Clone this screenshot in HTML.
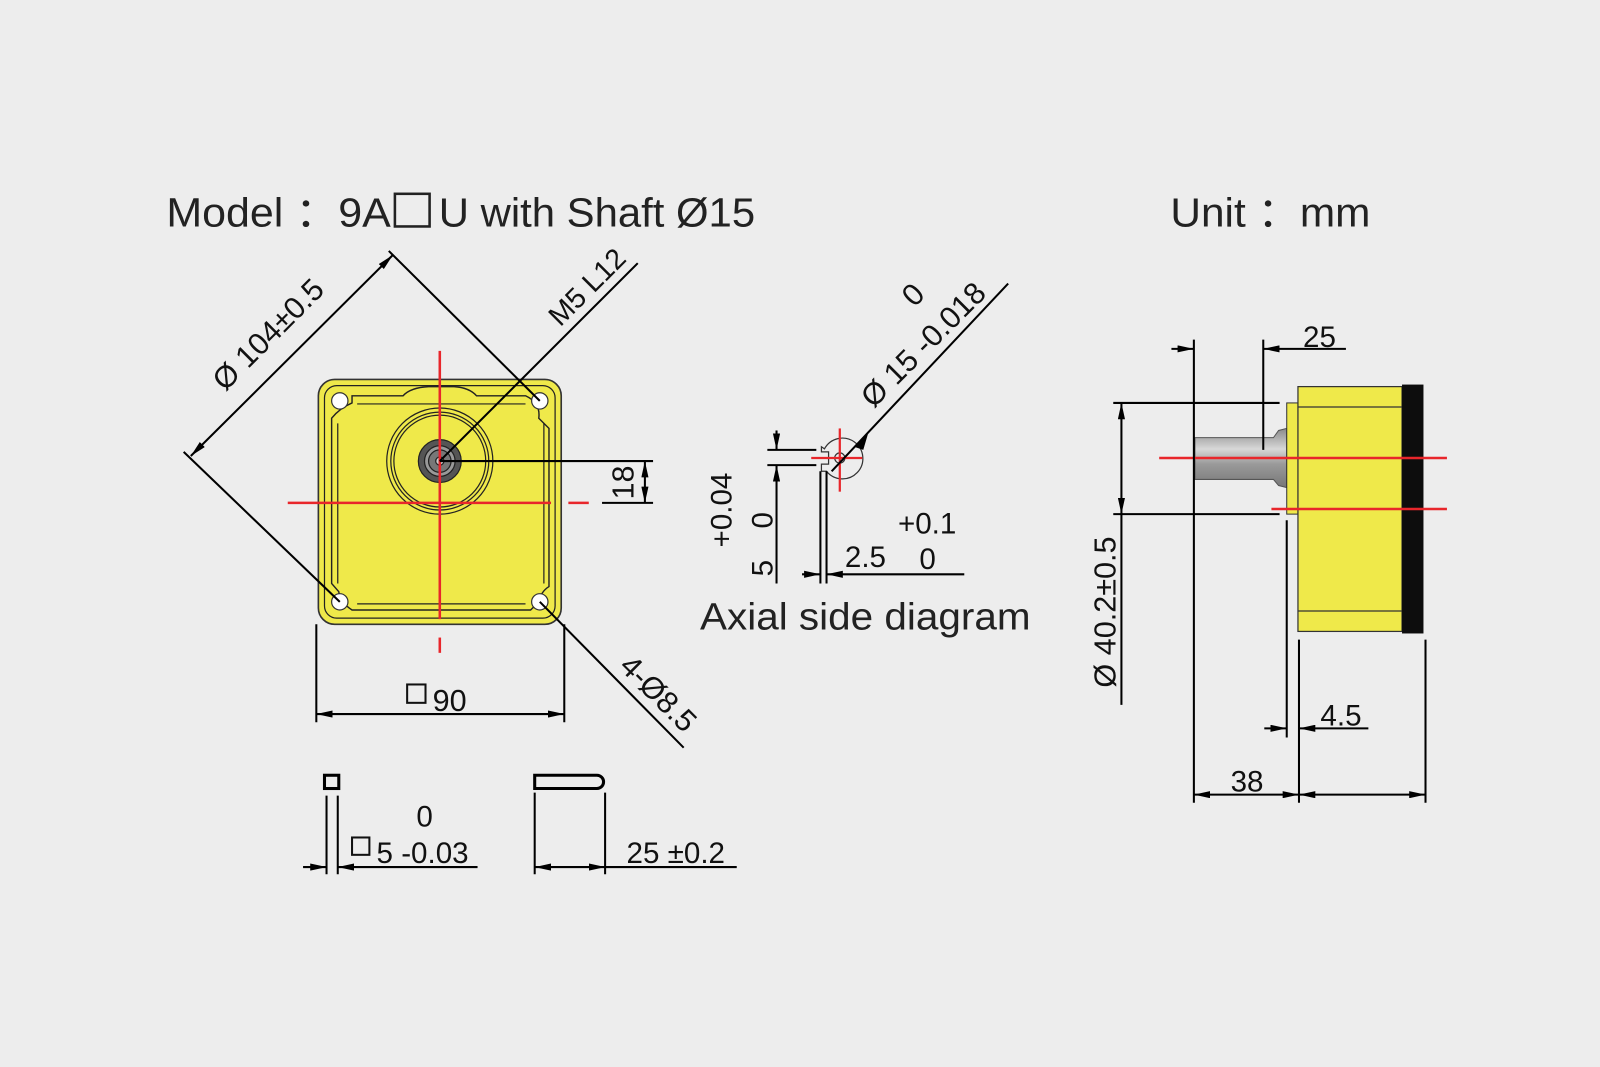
<!DOCTYPE html>
<html><head><meta charset="utf-8"><style>
html,body{margin:0;padding:0;background:#ededed;}
svg{display:block}
text{font-family:"Liberation Sans",sans-serif;fill:#111}
</style></head><body>
<svg width="1600" height="1067" viewBox="0 0 1568 1046" preserveAspectRatio="none" xmlns="http://www.w3.org/2000/svg">
<defs>
<marker id="a" viewBox="0 0 16 7" refX="16" refY="3.5" markerWidth="16" markerHeight="7" markerUnits="userSpaceOnUse" orient="auto-start-reverse"><path d="M0,0 L16,3.5 L0,7 z" fill="#000"/></marker>
<linearGradient id="sh" x1="0" y1="0" x2="0" y2="1"><stop offset="0" stop-color="#8a8a8a"/><stop offset="0.35" stop-color="#d8d8d8"/><stop offset="0.6" stop-color="#9a9a9a"/><stop offset="1" stop-color="#777"/></linearGradient>
</defs>
<rect width="1568" height="1046" fill="#ededed"/>
<!-- titles -->
<text x="163" y="222" font-size="40" textLength="220" lengthAdjust="spacingAndGlyphs" style="fill:#222">Model ：9A</text>
<rect x="387" y="190" width="34" height="32" fill="none" stroke="#222" stroke-width="2.5"/>
<text x="430" y="222" font-size="40" textLength="310" lengthAdjust="spacingAndGlyphs" style="fill:#222">U with Shaft Ø15</text>
<text x="1147" y="222" font-size="40" textLength="196" lengthAdjust="spacingAndGlyphs" style="fill:#222">Unit ：mm</text>

<!-- FRONT VIEW -->
<g stroke="#222" fill="none" stroke-width="1.2">
<rect x="312" y="372" width="238" height="240" rx="16" fill="#efe94a" stroke="#333" stroke-width="1.6"/>
<rect x="318" y="378" width="226" height="228" rx="12"/>
<path d="M345,388 L395,388 Q402,380 420,379 L445,379 Q460,380 467,388 L515,388 Q530,395 528,410 L538,420 L538,575 Q530,580 528,590 L520,598 L345,598 Q333,590 332,580 L325,572 L325,410 Q333,400 345,395 Z" stroke-width="1.4"/>
<path d="M350,396 L515,396 M331,415 L331,572 M533,415 L533,572 M350,592 L515,592"/>
<circle cx="431" cy="452" r="52"/><circle cx="431" cy="452" r="48"/><circle cx="431" cy="452" r="45"/>
<circle cx="431" cy="452" r="21" fill="#555"/><circle cx="431" cy="452" r="15" fill="#999"/><circle cx="431" cy="452" r="11" fill="#777"/><circle cx="431" cy="452" r="4" fill="#ccc"/>
</g>
<g fill="#fff" stroke="#333" stroke-width="1.2">
<circle cx="333" cy="393" r="8"/><circle cx="529" cy="393" r="8"/><circle cx="333" cy="590" r="8"/><circle cx="529" cy="590" r="8"/>
</g>
<g stroke="#e8262b" stroke-width="2.5">
<line x1="431" y1="344" x2="431" y2="607"/><line x1="431" y1="625" x2="431" y2="640"/>
<line x1="282" y1="493" x2="540" y2="493"/><line x1="557" y1="493" x2="577" y2="493"/>
</g>
<g stroke="#000" stroke-width="2" fill="none">
<line x1="180" y1="443" x2="333" y2="590"/>
<line x1="381" y1="246" x2="529" y2="393"/>
<line x1="187" y1="447" x2="385" y2="250" marker-start="url(#a)" marker-end="url(#a)"/>
<line x1="431" y1="452" x2="625" y2="258"/>
<line x1="431" y1="452" x2="640" y2="452"/>
<line x1="590" y1="493" x2="640" y2="493"/>
<line x1="632" y1="452" x2="632" y2="493" marker-start="url(#a)" marker-end="url(#a)"/>
<line x1="529" y1="590" x2="670" y2="733"/>
<line x1="310" y1="612" x2="310" y2="708"/><line x1="553" y1="612" x2="553" y2="708"/>
<line x1="310" y1="700" x2="553" y2="700" marker-start="url(#a)" marker-end="url(#a)"/>
</g>
<text transform="translate(270,335) rotate(-45)" font-size="30" text-anchor="middle">Ø 104±0.5</text>
<text transform="translate(582,288) rotate(-45)" font-size="28" text-anchor="middle">M5 L12</text>
<text transform="translate(621,473) rotate(-90)" font-size="30" text-anchor="middle">18</text>
<text transform="translate(638,687) rotate(45)" font-size="30" text-anchor="middle">4-Ø8.5</text>
<rect x="399" y="671" width="18" height="18" fill="none" stroke="#111" stroke-width="2"/>
<text x="424" y="697" font-size="30">90</text>

<!-- AXIAL SIDE -->
<g stroke="#333" stroke-width="1.2" fill="none">
<path d="M808,440 A20,20 0 1 1 810,462 L805,462 L805,455 L812,455 L812,443 L805,443 L805,438 Z"/>
<circle cx="823" cy="449" r="5"/>
</g>
<g stroke="#e8262b" stroke-width="2.2"><line x1="795" y1="449" x2="845" y2="449"/><line x1="823" y1="420" x2="823" y2="482"/></g>
<g stroke="#000" stroke-width="2" fill="none">
<line x1="815" y1="462" x2="988" y2="278"/>
<line x1="752" y1="441" x2="800" y2="441"/><line x1="752" y1="456" x2="800" y2="456"/>
<line x1="761" y1="422" x2="761" y2="441" marker-end="url(#a)"/>
<line x1="761" y1="572" x2="761" y2="456" marker-end="url(#a)"/>
<line x1="804" y1="462" x2="804" y2="572"/><line x1="810" y1="462" x2="810" y2="572"/>
<line x1="786" y1="563" x2="804" y2="563" marker-end="url(#a)"/>
<line x1="945" y1="563" x2="810" y2="563" marker-end="url(#a)"/>
</g>
<path d="M837,438 L851,424 L846,441 Z" fill="#000"/>
<text transform="translate(912,345) rotate(-45)" font-size="30" text-anchor="middle">Ø 15 -0.018</text>
<text transform="translate(902,296) rotate(-45)" font-size="30" text-anchor="middle">0</text>
<text transform="translate(717,500) rotate(-90)" font-size="29" text-anchor="middle">+0.04</text>
<text transform="translate(757,510) rotate(-90)" font-size="29" text-anchor="middle">0</text>
<text transform="translate(757,557) rotate(-90)" font-size="29" text-anchor="middle">5</text>
<text x="828" y="556" font-size="29">2.5</text>
<text x="880" y="523" font-size="29">+0.1</text>
<text x="901" y="558" font-size="29">0</text>
<text x="686" y="617" font-size="37" textLength="324" lengthAdjust="spacingAndGlyphs" style="fill:#222">Axial side diagram</text>

<!-- BOTTOM KEY -->
<rect x="318" y="760" width="14" height="13" fill="none" stroke="#000" stroke-width="3"/>
<path d="M524,760 L585,760 A6.5,6.5 0 0 1 585,773 L524,773 Z" fill="none" stroke="#000" stroke-width="3"/>
<g stroke="#000" stroke-width="2" fill="none">
<line x1="320" y1="780" x2="320" y2="857"/><line x1="331" y1="780" x2="331" y2="857"/>
<line x1="297" y1="850" x2="320" y2="850" marker-end="url(#a)"/>
<line x1="468" y1="850" x2="331" y2="850" marker-end="url(#a)"/>
<line x1="524" y1="777" x2="524" y2="857"/><line x1="593" y1="777" x2="593" y2="857"/>
<line x1="524" y1="850" x2="593" y2="850" marker-start="url(#a)" marker-end="url(#a)"/>
<line x1="593" y1="850" x2="722" y2="850"/>
</g>
<rect x="345" y="821" width="17" height="17" fill="none" stroke="#111" stroke-width="2"/>
<text x="369" y="846" font-size="29">5 -0.03</text>
<text x="408" y="810" font-size="29">0</text>
<text x="614" y="846" font-size="29">25 ±0.2</text>

<!-- SIDE VIEW -->
<path d="M1171,429 L1248,429 L1253,422 L1261,420 L1261,478 L1253,476 L1248,470 L1171,470 Z" fill="url(#sh)" stroke="#555" stroke-width="1"/>
<path d="M1175,449 L1238,449" stroke="#fff" stroke-width="2"/>
<rect x="1261" y="395" width="11" height="109" fill="#efe94a" stroke="#333" stroke-width="1"/>
<rect x="1272" y="379" width="102" height="240" fill="#efe94a" stroke="#333" stroke-width="1.2"/>
<line x1="1272" y1="399" x2="1374" y2="399" stroke="#333" stroke-width="1.2"/>
<line x1="1272" y1="599" x2="1374" y2="599" stroke="#333" stroke-width="1.2"/>
<rect x="1374" y="377" width="21" height="244" fill="#0d0d0d"/>
<g stroke="#e8262b" stroke-width="2.5">
<line x1="1136" y1="449" x2="1418" y2="449"/><line x1="1246" y1="499" x2="1418" y2="499"/>
</g>
<g stroke="#000" stroke-width="2" fill="none">
<line x1="1091" y1="395" x2="1254" y2="395"/><line x1="1091" y1="504" x2="1254" y2="504"/>
<line x1="1099" y1="395" x2="1099" y2="504" marker-start="url(#a)" marker-end="url(#a)"/>
<line x1="1099" y1="504" x2="1099" y2="691"/>
<line x1="1170" y1="333" x2="1170" y2="787"/>
<line x1="1238" y1="333" x2="1238" y2="441"/>
<line x1="1148" y1="342" x2="1170" y2="342" marker-end="url(#a)"/>
<line x1="1319" y1="342" x2="1238" y2="342" marker-end="url(#a)"/>
<line x1="1261" y1="510" x2="1261" y2="723"/>
<line x1="1273" y1="627" x2="1273" y2="787"/>
<line x1="1397" y1="627" x2="1397" y2="787"/>
<line x1="1239" y1="714" x2="1261" y2="714" marker-end="url(#a)"/>
<line x1="1341" y1="714" x2="1273" y2="714" marker-end="url(#a)"/>
<line x1="1170" y1="779" x2="1273" y2="779" marker-start="url(#a)" marker-end="url(#a)"/>
<line x1="1273" y1="779" x2="1397" y2="779" marker-start="url(#a)" marker-end="url(#a)"/>
</g>
<text x="1277" y="340" font-size="29">25</text>
<text x="1294" y="711" font-size="29">4.5</text>
<text x="1206" y="776" font-size="29">38</text>
<text transform="translate(1093,600) rotate(-90)" font-size="30" text-anchor="middle">Ø 40.2±0.5</text>
</svg>
</body></html>
